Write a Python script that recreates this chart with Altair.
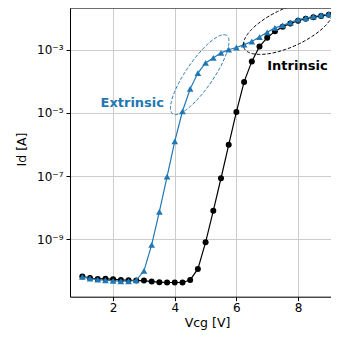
import altair as alt
import numpy as np
import pandas as pd

# ---- data ----
vcg = [1.0, 1.25, 1.5, 1.75, 2.0, 2.25, 2.5, 2.75, 3.0, 3.25, 3.5, 3.75,
       4.0, 4.25, 4.5, 4.75, 5.0, 5.25, 5.5, 5.75, 6.0, 6.25, 6.5, 6.75,
       7.0, 7.25, 7.5, 7.75, 8.0, 8.25, 8.5, 8.75, 9.0]

# log10 of Id [A]
intrinsic_log = [-10.18, -10.23, -10.26, -10.25, -10.27, -10.29, -10.30, -10.31,
                 -10.31, -10.34, -10.36, -10.37, -10.37, -10.37, -10.29, -9.94,
                 -9.10, -8.10, -7.07, -6.01, -4.97, -4.02, -3.37, -2.90,
                 -2.62, -2.42, -2.27, -2.17, -2.08, -2.02, -1.97, -1.93, -1.89]

extrinsic_log = [-10.19, -10.25, -10.28, -10.30, -10.32, -10.33, -10.33, -10.30,
                 -10.00, -9.18, -8.13, -7.02, -5.90, -4.95, -4.24, -3.74,
                 -3.42, -3.26, -3.10, -3.00, -2.93, -2.84, -2.74, -2.60,
                 -2.45, -2.31, -2.23, -2.14, -2.05, -2.00, -1.95, -1.91, -1.87]

y_tick_values = [1e-9, 1e-7, 1e-5, 1e-3]
x_tick_values = [2, 4, 6, 8]

# annotations: (center Vcg, center log10 Id, semi-major, semi-minor, angle deg)
ext_ellipse = (4.81, -3.79, 1.52, 0.44, 54.7)
int_ellipse = (7.69, -2.30, 1.58, 0.61, 23.9)
ext_label = ("Extrinsic", 2.62, -4.68)
int_label = ("Intrinsic", 7.98, -3.51)

BLUE = "#1f77b4"
FONT = "DejaVu Sans"
W, H = 261, 288.7

def ellipse_df(params):
    cx, cy, a, b, ang = params
    t = np.linspace(0, 2 * np.pi, 161)
    th = np.deg2rad(ang)
    x = cx + a * np.cos(t) * np.cos(th) - b * np.sin(t) * np.sin(th)
    ly = cy + a * np.cos(t) * np.sin(th) + b * np.sin(t) * np.cos(th)
    return pd.DataFrame({"Vcg": x, "Id": 10.0 ** ly, "i": np.arange(len(t))})

df_int = pd.DataFrame({"Vcg": vcg, "Id": [10.0 ** v for v in intrinsic_log]})
df_ext = pd.DataFrame({"Vcg": vcg, "Id": [10.0 ** v for v in extrinsic_log]})

xscale = alt.Scale(domain=[0.6, 9.07], nice=False, zero=False)
yscale = alt.Scale(type="log", domain=[10 ** -10.82, 10 ** -1.68], nice=False)

xaxis = alt.Axis(values=x_tick_values, title="Vcg [V]", grid=True,
                 gridColor="#cccccc", gridWidth=1, domainColor="black",
                 tickColor="black", tickSize=4, labelPadding=2,
                 labelFont=FONT, labelFontSize=12, labelColor="black",
                 titleFont=FONT, titleFontSize=12.5, titleFontWeight="normal",
                 titleColor="black", titleX=137, titleY=26,
                 titleBaseline="middle", titleAlign="center")
yaxis = alt.Axis(values=y_tick_values, title="Id [A]", grid=True,
                 gridColor="#cccccc", gridWidth=1, domainColor="black",
                 tickColor="black", tickSize=4, labelPadding=3,
                 labelFont=FONT, labelFontSize=12, labelColor="black",
                 labelExpr="datum.value < 1e-8 ? '10⁻⁹' : datum.value < 1e-6 ? '10⁻⁷' : datum.value < 1e-4 ? '10⁻⁵' : '10⁻³'",
                 titleFont=FONT, titleFontSize=12.5, titleFontWeight="normal",
                 titleColor="black", titleX=-48.5, titleY=141,
                 titleBaseline="middle", titleAlign="center", titleAngle=-90)

X = alt.X("Vcg:Q", scale=xscale, axis=xaxis)
Y = alt.Y("Id:Q", scale=yscale, axis=yaxis)

int_line = alt.Chart(df_int).mark_line(color="black", strokeWidth=1.2, clip=True).encode(x=X, y=Y)
int_pts = alt.Chart(df_int).mark_point(shape="circle", filled=True, size=36, color="black",
                                       opacity=1, clip=True).encode(x=X, y=Y)
ext_line = alt.Chart(df_ext).mark_line(color=BLUE, strokeWidth=1.2, clip=True).encode(x=X, y=Y)
ext_pts = alt.Chart(df_ext).mark_point(shape="triangle-up", filled=True, size=45, color=BLUE,
                                       opacity=1, clip=True).encode(x=X, y=Y)

ell_ext = alt.Chart(ellipse_df(ext_ellipse)).mark_line(
    color=BLUE, strokeWidth=1, strokeDash=[3.5, 1.8], clip=True
).encode(x=X, y=Y, order="i:Q")
ell_int = alt.Chart(ellipse_df(int_ellipse)).mark_line(
    color="black", strokeWidth=1, strokeDash=[3.5, 1.8], clip=True
).encode(x=X, y=Y, order="i:Q")

def label_chart(lab, color):
    d = pd.DataFrame({"Vcg": [lab[1]], "Id": [10.0 ** lab[2]], "t": [lab[0]]})
    return alt.Chart(d).mark_text(font=FONT, fontSize=13, fontWeight="bold", color=color,
                                  align="center", baseline="middle").encode(x=X, y=Y, text="t:N")

top_spine = alt.Chart(pd.DataFrame({"a": [0]})).mark_rule(color="black", strokeWidth=1).encode(
    x=alt.value(0), x2=alt.value(W), y=alt.value(0))

chart = alt.layer(
    int_line, int_pts, ext_line, ext_pts, ell_ext, ell_int,
    label_chart(ext_label, BLUE), label_chart(int_label, "black"), top_spine
).properties(
    width=W, height=H,
    autosize=alt.AutoSizeParams(type="none"),
    padding={"left": 62, "top": 0, "right": 0, "bottom": 33.3},
).configure_view(stroke=None).configure(background="white")

chart.save("out.html", embed_options={"renderer": "svg", "actions": False})
